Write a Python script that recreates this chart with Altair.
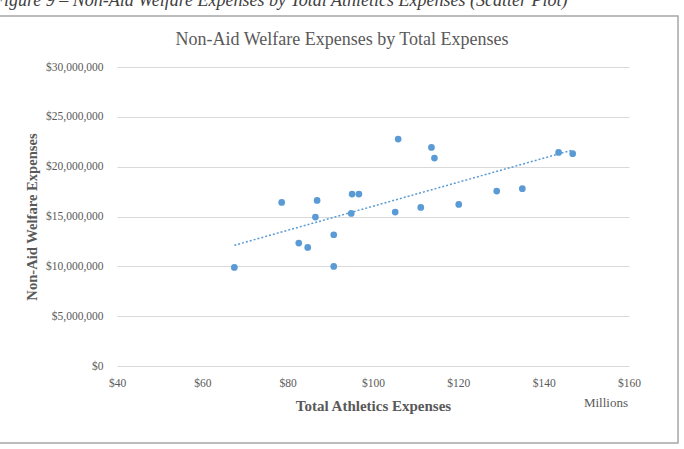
import altair as alt
import pandas as pd

total_expenses_millions = [67.5, 78.6, 82.6, 84.7, 86.9, 86.5, 90.8, 90.8, 94.9, 95.1, 96.7,
                           105.9, 105.2, 111.2, 113.7, 114.4, 120.1, 129.0, 135.0, 143.5, 146.8]
non_aid_welfare = [9890000, 16410000, 12330000, 11900000, 16610000, 14940000, 13170000, 9990000,
                   15310000, 17250000, 17250000, 22770000, 15440000, 15910000, 21930000, 20860000,
                   16210000, 17550000, 17790000, 21430000, 21300000]
x_ticks = [40, 60, 80, 100, 120, 140, 160]
y_ticks = [0, 5000000, 10000000, 15000000, 20000000, 25000000, 30000000]

chart_title = "Non-Aid Welfare Expenses by Total Expenses"
caption = "Figure 9 \u2013 Non-Aid Welfare Expenses by Total Athletics Expenses (Scatter Plot)"
x_title = "Total Athletics Expenses"
y_title = "Non-Aid Welfare Expenses"
unit_label = "Millions"

df = pd.DataFrame({"x": total_expenses_millions, "y": non_aid_welfare})
one = pd.DataFrame({"a": [0]})

FONT = "Liberation Serif"
GRAY = "#595959"
BLUE = "#5b9bd5"

xs = alt.Scale(domain=[40, 160], nice=False, zero=False)
ys = alt.Scale(domain=[0, 30000000], nice=False)

x_enc = alt.X("x:Q", scale=xs,
              axis=alt.Axis(values=x_ticks, labelExpr="'$' + datum.value", title=x_title,
                            grid=False, domain=False, ticks=False, labelPadding=11,
                            labelFlush=False, titlePadding=10, labelFont=FONT,
                            labelFontSize=11.5, labelColor=GRAY, titleFont=FONT,
                            titleFontSize=15, titleFontWeight="bold", titleColor=GRAY))
y_enc = alt.Y("y:Q", scale=ys,
              axis=alt.Axis(values=y_ticks, format="$,.0f", title=y_title,
                            grid=True, gridColor="#d9d9d9", gridWidth=1, domain=False,
                            ticks=False, labelPadding=14, titlePadding=6, labelFont=FONT,
                            labelFontSize=11.5, labelColor=GRAY, titleFont=FONT,
                            titleFontSize=14.6, titleFontWeight="bold", titleColor=GRAY))

points = alt.Chart(df).mark_circle(size=45, color=BLUE, opacity=1).encode(x=x_enc, y=y_enc)

trend = alt.Chart(df).transform_regression("x", "y").mark_line(
    color=BLUE, strokeDash=[2, 2], strokeWidth=1.5
).encode(x=alt.X("x:Q", scale=xs), y=alt.Y("y:Q", scale=ys))

border = alt.Chart(one).mark_rect(fill=None, stroke="#a6a6a6", strokeWidth=1.5).encode(
    x=alt.value(-120), x2=alt.value(561), y=alt.value(-51), y2=alt.value(376))

title_txt = alt.Chart(one).mark_text(font=FONT, fontSize=18, color=GRAY, baseline="middle",
                                      align="center").encode(
    x=alt.value(225), y=alt.value(-27), text=alt.value(chart_title))

caption_txt = alt.Chart(one).mark_text(font=FONT, fontSize=18, fontStyle="italic", color="#404040",
                                        baseline="alphabetic", align="left").encode(
    x=alt.value(-124), y=alt.value(-61), text=alt.value(caption))

millions_txt = alt.Chart(one).mark_text(font=FONT, fontSize=13, color=GRAY, baseline="middle",
                                         align="right").encode(
    x=alt.value(511), y=alt.value(336), text=alt.value(unit_label))

chart = alt.layer(border, caption_txt, title_txt, points, trend, millions_txt).properties(
    width=512, height=299,
    autosize=alt.AutoSizeParams(type="none"),
    padding={"left": 117, "top": 67, "right": 55, "bottom": 83},
    background="white",
).configure_view(stroke=None)

chart.save("out.html", embed_options={"renderer": "svg", "actions": False})
